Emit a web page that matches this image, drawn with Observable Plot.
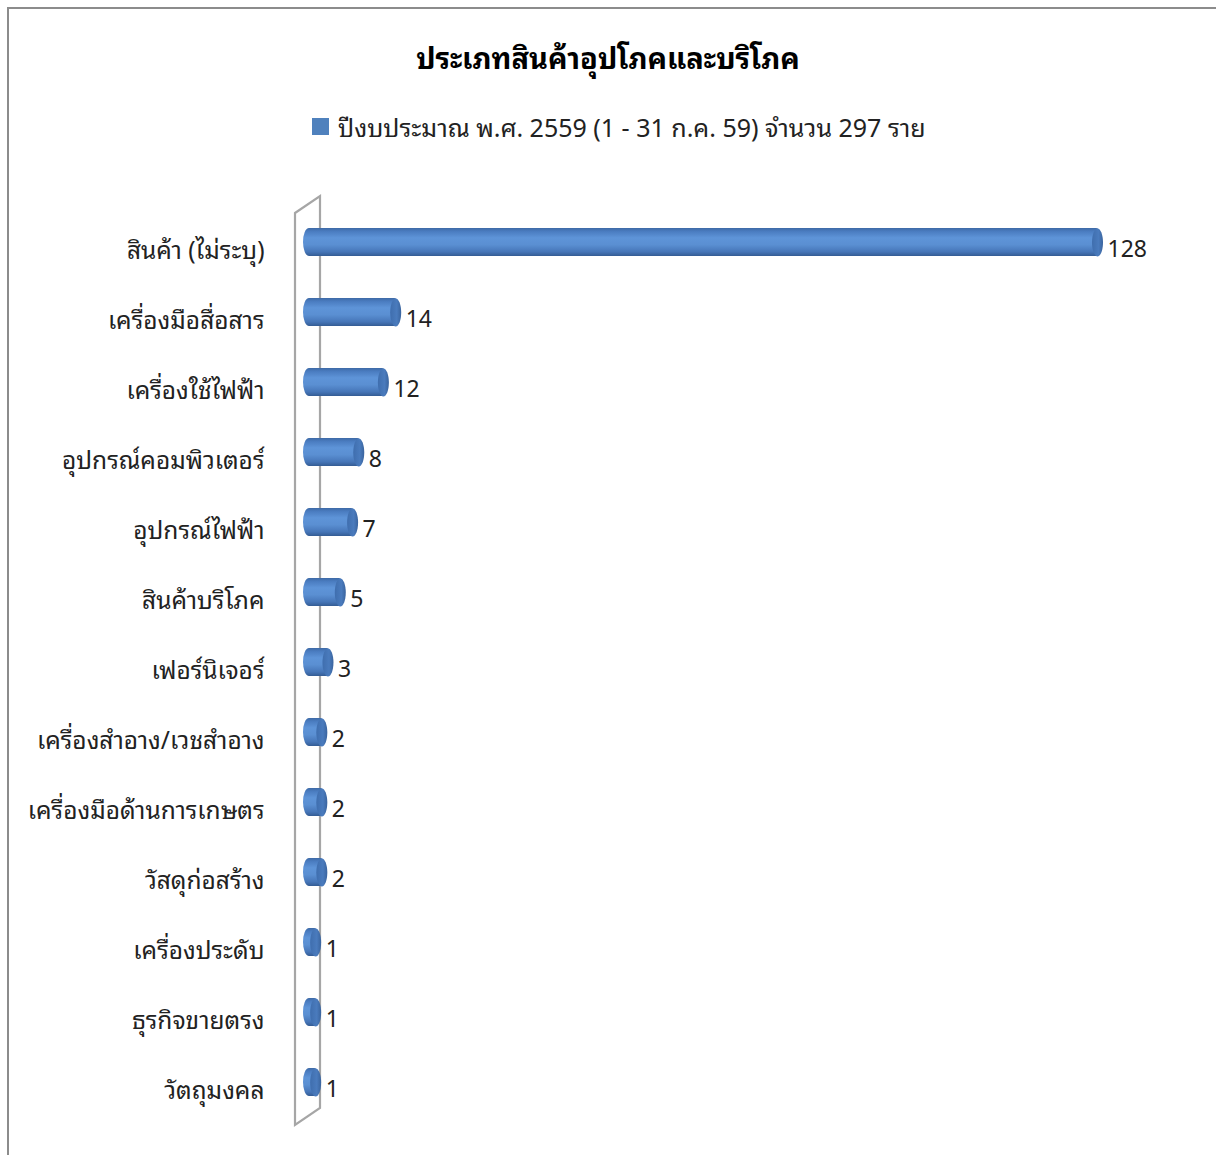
<!DOCTYPE html>
<html>
<head>
<meta charset="utf-8">
<script src="https://cdn.jsdelivr.net/npm/d3@7"></script>
<script src="https://cdn.jsdelivr.net/npm/@observablehq/plot@0.6"></script>
<style>
  html, body { margin: 0; padding: 0; background: #fff; }
  body { width: 1216px; height: 1155px; overflow: hidden; position: relative;
         font-family: "Leelawadee UI", Leelawadee, Tahoma, "Noto Sans Thai Looped", Loma, Garuda, "Noto Sans Thai", "Noto Sans", "DejaVu Sans", sans-serif; }
  #border { position: absolute; left: 7px; top: 7px; width: 1300px; height: 1300px;
            border-left: 2px solid #8c8c8c; border-top: 2px solid #8c8c8c; box-sizing: border-box; }
  #title { position: relative; height: 95px; box-sizing: border-box; padding-top: 36px;
           text-align: center; font-size: 29px; font-weight: bold; color: #000; line-height: 40px; }
  #legend { position: relative; height: 60px; box-sizing: border-box;
            font-size: 25px; color: #222; line-height: 30px; }
  #legend .sw { position: absolute; left: 312px; top: 23px; width: 17px; height: 17px; background: #4f81bd; }
  #legend .tx { position: absolute; left: 338px; top: 16px; white-space: nowrap; }
  #chart { position: relative; height: 1000px; }
  #chart svg { display: block; }
</style>
</head>
<body>
<div id="border"></div>
<div id="title"></div>
<div id="legend"><span class="sw"></span><span class="tx"></span></div>
<div id="chart"></div>
<script>
const titleText = "ประเภทสินค้าอุปโภคและบริโภค";
const seriesName = "ปีงบประมาณ พ.ศ. 2559 (1 - 31 ก.ค. 59) จำนวน 297 ราย";
const categories = [
  "สินค้า (ไม่ระบุ)",
  "เครื่องมือสื่อสาร",
  "เครื่องใช้ไฟฟ้า",
  "อุปกรณ์คอมพิวเตอร์",
  "อุปกรณ์ไฟฟ้า",
  "สินค้าบริโภค",
  "เฟอร์นิเจอร์",
  "เครื่องสำอาง/เวชสำอาง",
  "เครื่องมือด้านการเกษตร",
  "วัสดุก่อสร้าง",
  "เครื่องประดับ",
  "ธุรกิจขายตรง",
  "วัตถุมงคล"
];
const values = [128, 14, 12, 8, 7, 5, 3, 2, 2, 2, 1, 1, 1];

document.getElementById("title").textContent = titleText;
document.querySelector("#legend .tx").textContent = seriesName;

const data = categories.map((c, i) => ({category: c, value: values[i]}));

// ellipse symbol for the cylinder end caps
const capSymbol = {
  draw(ctx, size) {
    const rx = 5.5, ry = 14, k = 0.5523;
    ctx.moveTo(rx, 0);
    ctx.bezierCurveTo(rx, ry * k, rx * k, ry, 0, ry);
    ctx.bezierCurveTo(-rx * k, ry, -rx, ry * k, -rx, 0);
    ctx.bezierCurveTo(-rx, -ry * k, -rx * k, -ry, 0, -ry);
    ctx.bezierCurveTo(rx * k, -ry, rx, -ry * k, rx, 0);
    ctx.closePath();
  }
};

const FONT = "\"Leelawadee UI\", Leelawadee, Tahoma, \"Noto Sans Thai Looped\", Loma, Garuda, \"Noto Sans Thai\", \"Noto Sans\", \"DejaVu Sans\", sans-serif";
const W = 1216, H = 1000;
const plot = Plot.plot({
  width: W,
  height: H,
  marginLeft: 264,
  marginTop: 51,
  marginBottom: 37,
  marginRight: 0,
  style: {fontFamily: FONT, fontSize: "24px", color: "#222", background: "transparent"},
  x: {domain: [0, 128], range: [314, 1102], axis: null},
  y: {domain: categories, paddingInner: 0.6, paddingOuter: 0.3, label: null},
  marks: [
    Plot.axisY({tickSize: 0, tickPadding: 0, fontSize: 24.5, dy: 9, label: null}),
    Plot.barX(data, {
      x: "value", y: "category", fill: "url(#cyl)",
      insetLeft: -11, rx: 6, ry: 14
    }),
    Plot.dot(data, {x: "value", y: "category", symbol: capSymbol, r: 5, dx: -5, fill: "url(#cap)", stroke: "none"}),
    Plot.text(data, {
      x: "value", y: "category", text: d => String(d.value),
      textAnchor: "start", dx: 5, dy: 7, fontSize: 23, fill: "#222"
    })
  ]
});

// gradients and the 3D side wall drawn from the scales
const svg = d3.select(plot);
const defs = svg.insert("defs", ":first-child");
const g1 = defs.append("linearGradient").attr("id", "cyl").attr("x1", 0).attr("y1", 0).attr("x2", 0).attr("y2", 1);
[[0, "#3e6aa6"], [0.12, "#4a7cc0"], [0.35, "#5e94d8"], [0.6, "#5a8fd2"], [0.85, "#4676b8"], [1, "#345c94"]]
  .forEach(([o, c]) => g1.append("stop").attr("offset", o).attr("stop-color", c));
const g2 = defs.append("linearGradient").attr("id", "cap").attr("x1", 0).attr("y1", 0).attr("x2", 1).attr("y2", 0);
[[0, "#3f6eae"], [0.6, "#4a7bbd"], [1, "#3a649e"]]
  .forEach(([o, c]) => g2.append("stop").attr("offset", o).attr("stop-color", c));

const xs = plot.scale("x"), ys = plot.scale("y");
const x0 = xs.apply(0);
const yTop = ys.range[0], yBot = ys.range[1];
const wallL = x0 - 19, wallR = x0 + 6;
svg.insert("path", "g[aria-label='bar']")
  .attr("d", `M${wallL},${yTop + 7}L${wallR},${yTop - 10}L${wallR},${yBot - 10}L${wallL},${yBot + 7}Z`)
  .attr("fill", "none").attr("stroke", "#a6a6a6").attr("stroke-width", 2.2);

document.getElementById("chart").append(plot);
</script>
</body>
</html>
